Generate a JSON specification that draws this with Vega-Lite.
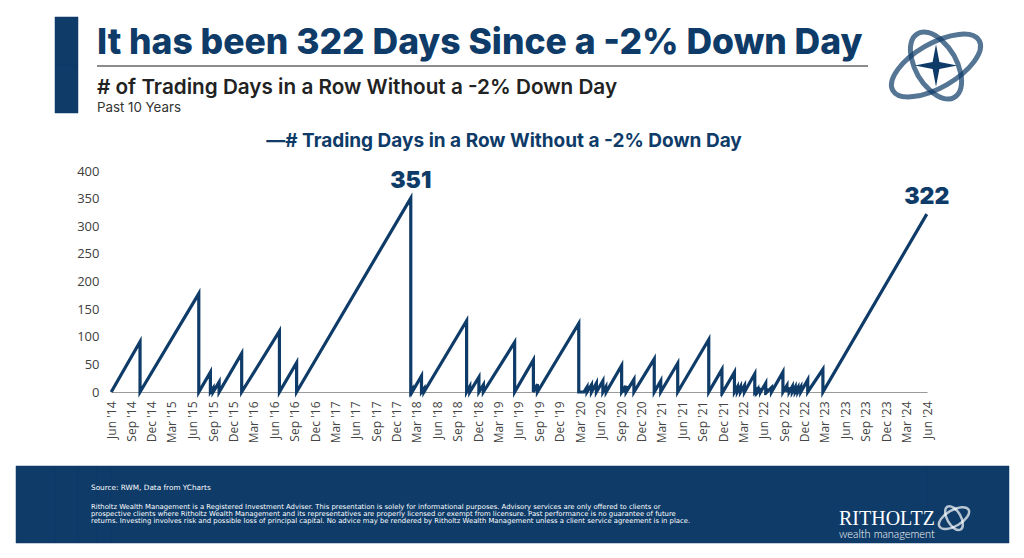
{
  "$schema": "https://vega.github.io/schema/vega-lite/v6.json",
  "background": "white",
  "padding": {"left": 15, "top": 14, "right": 16, "bottom": 15},
  "config": {"view": {"stroke": null}, "font": "Inter"},
  "datasets": {
    "blank": [{}],
    "logo": [{"part": "ring A"}, {"part": "ring B"}],
    "mini": [{"part": "mini A"}, {"part": "mini B"}],
    "series": [
      {"date": "2014-06-02", "days": 0},
      {"date": "2014-10-09", "days": 91}, {"date": "2014-10-09", "days": 0},
      {"date": "2015-06-29", "days": 178}, {"date": "2015-06-29", "days": 0},
      {"date": "2015-08-20", "days": 36}, {"date": "2015-08-20", "days": 0},
      {"date": "2015-09-01", "days": 7}, {"date": "2015-09-01", "days": 0},
      {"date": "2015-09-28", "days": 18}, {"date": "2015-09-28", "days": 0},
      {"date": "2016-01-07", "days": 70}, {"date": "2016-01-07", "days": 0},
      {"date": "2016-06-24", "days": 110}, {"date": "2016-06-24", "days": 0},
      {"date": "2016-09-09", "days": 53}, {"date": "2016-09-09", "days": 0},
      {"date": "2018-02-02", "days": 351, "label": "351"}, {"date": "2018-02-02", "days": 0},
      {"date": "2018-02-08", "days": 4}, {"date": "2018-02-08", "days": 0},
      {"date": "2018-03-22", "days": 29}, {"date": "2018-03-22", "days": 0},
      {"date": "2018-04-02", "days": 6}, {"date": "2018-04-02", "days": 0},
      {"date": "2018-10-10", "days": 129}, {"date": "2018-10-10", "days": 0},
      {"date": "2018-10-24", "days": 10}, {"date": "2018-10-24", "days": 0},
      {"date": "2018-12-04", "days": 27}, {"date": "2018-12-04", "days": 0},
      {"date": "2018-12-24", "days": 13}, {"date": "2018-12-24", "days": 0},
      {"date": "2019-05-13", "days": 90}, {"date": "2019-05-13", "days": 0},
      {"date": "2019-08-05", "days": 58}, {"date": "2019-08-05", "days": 0},
      {"date": "2019-08-23", "days": 14}, {"date": "2019-08-23", "days": 0},
      {"date": "2020-02-24", "days": 124}, {"date": "2020-02-24", "days": 0},
      {"date": "2020-03-18", "days": 0},
      {"date": "2020-04-01", "days": 9}, {"date": "2020-04-01", "days": 0},
      {"date": "2020-04-21", "days": 13}, {"date": "2020-04-21", "days": 0},
      {"date": "2020-05-13", "days": 16}, {"date": "2020-05-13", "days": 0},
      {"date": "2020-06-11", "days": 20}, {"date": "2020-06-11", "days": 0},
      {"date": "2020-06-24", "days": 9}, {"date": "2020-06-24", "days": 0},
      {"date": "2020-06-26", "days": 2}, {"date": "2020-06-26", "days": 0},
      {"date": "2020-09-03", "days": 48}, {"date": "2020-09-03", "days": 0},
      {"date": "2020-09-08", "days": 3}, {"date": "2020-09-08", "days": 0},
      {"date": "2020-09-23", "days": 11}, {"date": "2020-09-23", "days": 0},
      {"date": "2020-10-28", "days": 23}, {"date": "2020-10-28", "days": 0},
      {"date": "2021-01-27", "days": 60}, {"date": "2021-01-27", "days": 0},
      {"date": "2021-02-25", "days": 20}, {"date": "2021-02-25", "days": 0},
      {"date": "2021-05-12", "days": 52}, {"date": "2021-05-12", "days": 0},
      {"date": "2021-09-28", "days": 95}, {"date": "2021-09-28", "days": 0},
      {"date": "2021-11-26", "days": 41}, {"date": "2021-11-26", "days": 0},
      {"date": "2021-11-30", "days": 2}, {"date": "2021-11-30", "days": 0},
      {"date": "2022-01-21", "days": 36}, {"date": "2022-01-21", "days": 0},
      {"date": "2022-02-03", "days": 9}, {"date": "2022-02-03", "days": 0},
      {"date": "2022-02-17", "days": 10}, {"date": "2022-02-17", "days": 0},
      {"date": "2022-03-07", "days": 12}, {"date": "2022-03-07", "days": 0},
      {"date": "2022-04-22", "days": 33}, {"date": "2022-04-22", "days": 0},
      {"date": "2022-04-26", "days": 2}, {"date": "2022-04-26", "days": 0},
      {"date": "2022-04-29", "days": 3}, {"date": "2022-04-29", "days": 0},
      {"date": "2022-05-05", "days": 4}, {"date": "2022-05-05", "days": 0},
      {"date": "2022-05-09", "days": 2}, {"date": "2022-05-09", "days": 0},
      {"date": "2022-05-18", "days": 7}, {"date": "2022-05-18", "days": 0},
      {"date": "2022-06-10", "days": 16}, {"date": "2022-06-10", "days": 0},
      {"date": "2022-06-13", "days": 1}, {"date": "2022-06-13", "days": 0},
      {"date": "2022-06-16", "days": 3}, {"date": "2022-06-16", "days": 0},
      {"date": "2022-07-06", "days": 8}, {"date": "2022-07-06", "days": 0},
      {"date": "2022-08-26", "days": 36}, {"date": "2022-08-26", "days": 0},
      {"date": "2022-09-13", "days": 12}, {"date": "2022-09-13", "days": 0},
      {"date": "2022-09-23", "days": 8}, {"date": "2022-09-23", "days": 0},
      {"date": "2022-10-07", "days": 10}, {"date": "2022-10-07", "days": 0},
      {"date": "2022-10-20", "days": 9}, {"date": "2022-10-20", "days": 0},
      {"date": "2022-11-01", "days": 8}, {"date": "2022-11-01", "days": 0},
      {"date": "2022-11-14", "days": 9}, {"date": "2022-11-14", "days": 0},
      {"date": "2022-12-15", "days": 22}, {"date": "2022-12-15", "days": 0},
      {"date": "2023-02-21", "days": 41}, {"date": "2023-02-21", "days": 0},
      {"date": "2024-05-31", "days": 322, "label": "322"}
    ]
  },
  "columns": 6,
  "align": "each",
  "bounds": "flush",
  "spacing": 0,
  "concat": [
    {"width": 39, "height": 48, "data": {"name": "blank"}, "mark": {"type": "point", "opacity": 0}, "encoding": {}},
    {"width": 23, "height": 48, "data": {"name": "blank"}, "mark": {"type": "point", "opacity": 0}, "encoding": {}, "view": {"fill": "#0e3b68", "stroke": "#0e3b68", "strokeWidth": 0.5}},
    {"width": 19, "height": 1, "data": {"name": "blank"}, "mark": {"type": "point", "opacity": 0}, "encoding": {}},
    {
      "width": 14, "height": 48,
      "data": {"name": "blank"}, "mark": {"type": "point", "opacity": 0}, "encoding": {},
      "title": {"text": "It has been 322 Days Since a -2% Down Day", "orient": "top", "anchor": "start", "frame": "group", "offset": -44, "font": "Inter", "fontSize": 35.5, "fontWeight": 800, "color": "#0e3b68"}
    },
    {"width": 1, "height": 1, "data": {"name": "blank"}, "mark": {"type": "point", "opacity": 0}, "encoding": {}},
    {"width": 1, "height": 1, "data": {"name": "blank"}, "mark": {"type": "point", "opacity": 0}, "encoding": {}},

    {"width": 39, "height": 106, "data": {"name": "blank"}, "mark": {"type": "point", "opacity": 0}, "encoding": {}},
    {"width": 23, "height": 48, "data": {"name": "blank"}, "mark": {"type": "point", "opacity": 0}, "encoding": {}, "view": {"fill": "#0e3b68", "stroke": "#0e3b68", "strokeWidth": 0.5}},
    {"width": 19, "height": 1, "data": {"name": "blank"}, "mark": {"type": "point", "opacity": 0}, "encoding": {}},
    {
      "width": 14, "height": 2,
      "data": {"name": "blank"}, "mark": {"type": "point", "opacity": 0}, "encoding": {},
      "view": {"fill": "#8c8c8c", "stroke": null},
      "title": {"text": "# of Trading Days in a Row Without a -2% Down Day", "subtitle": "Past 10 Years", "orient": "bottom", "anchor": "start", "frame": "group", "offset": 9, "font": "Inter", "fontSize": 20.7, "fontWeight": 600, "color": "#222222", "subtitleFont": "Inter", "subtitleFontSize": 13.3, "subtitleColor": "#333333", "subtitlePadding": 3}
    },
    {"width": 757, "height": 2, "data": {"name": "blank"}, "mark": {"type": "point", "opacity": 0}, "encoding": {}, "view": {"fill": "#8c8c8c", "stroke": null}},
    {
      "width": 18, "height": 1,
      "layer": [
        {
          "data": {"name": "logo"},
          "mark": {"type": "point", "filled": false, "strokeWidth": 5, "color": "#0e3b68", "size": 11000},
          "encoding": {
            "shape": {
              "field": "part", "type": "nominal", "legend": null,
              "scale": {"domain": ["ring A", "ring B", "mini A", "mini B"], "range": [
                "M -0.823 0.475 A 0.95 0.42 -30 1 0 0.823 -0.475 A 0.95 0.42 -30 1 0 -0.823 0.475 Z",
                "M -0.35 -0.606 A 0.7 0.38 60 1 0 0.35 0.606 A 0.7 0.38 60 1 0 -0.35 -0.606 Z",
                "M -0.714 0.55 A 0.42 0.2 -30 1 0 0.014 0.13 A 0.42 0.2 -30 1 0 -0.714 0.55 Z",
                "M -0.515 0.054 A 0.33 0.17 60 1 0 -0.185 0.626 A 0.33 0.17 60 1 0 -0.515 0.054 Z"
              ]}
            }
          }
        },
        {
          "data": {"name": "blank"},
          "mark": {"type": "point", "filled": true, "color": "#0e3b68", "opacity": 1, "size": 1800, "shape": "M 0 -1 L 0.16 -0.16 L 1 0 L 0.16 0.16 L 0 1 L -0.16 0.16 L -1 0 L -0.16 -0.16 Z"},
          "encoding": {}
        }
      ]
    },

    {"width": 39, "height": 295, "data": {"name": "blank"}, "mark": {"type": "point", "opacity": 0}, "encoding": {}},
    {"width": 23, "height": 1, "data": {"name": "blank"}, "mark": {"type": "point", "opacity": 0}, "encoding": {}},
    {"width": 19, "height": 1, "data": {"name": "blank"}, "mark": {"type": "point", "opacity": 0}, "encoding": {}},
    {"width": 14, "height": 1, "data": {"name": "blank"}, "mark": {"type": "point", "opacity": 0}, "encoding": {}},
    {
      "width": 816,
      "height": 221,
      "data": {"name": "series"},
      "title": {"text": "—# Trading Days in a Row Without a -2% Down Day", "orient": "top", "anchor": "middle", "frame": "group", "dx": -15, "offset": 14, "font": "Inter", "fontSize": 19, "fontWeight": 700, "color": "#0e3b68"},
      "encoding": {
        "x": {
          "field": "date", "type": "temporal",
          "scale": {"type": "utc", "domain": [{"year": 2014, "month": 6, "date": 1, "utc": true}, {"year": 2024, "month": 6, "date": 1, "utc": true}]},
          "axis": {
            "title": null,
            "labelExpr": "utcFormat(datum.value, '%b') + \" '\" + utcFormat(datum.value, '%y')",
            "values": [
              {"year": 2014, "month": 6, "date": 1, "utc": true}, {"year": 2014, "month": 9, "date": 1, "utc": true}, {"year": 2014, "month": 12, "date": 1, "utc": true},
              {"year": 2015, "month": 3, "date": 1, "utc": true}, {"year": 2015, "month": 6, "date": 1, "utc": true}, {"year": 2015, "month": 9, "date": 1, "utc": true}, {"year": 2015, "month": 12, "date": 1, "utc": true},
              {"year": 2016, "month": 3, "date": 1, "utc": true}, {"year": 2016, "month": 6, "date": 1, "utc": true}, {"year": 2016, "month": 9, "date": 1, "utc": true}, {"year": 2016, "month": 12, "date": 1, "utc": true},
              {"year": 2017, "month": 3, "date": 1, "utc": true}, {"year": 2017, "month": 6, "date": 1, "utc": true}, {"year": 2017, "month": 9, "date": 1, "utc": true}, {"year": 2017, "month": 12, "date": 1, "utc": true},
              {"year": 2018, "month": 3, "date": 1, "utc": true}, {"year": 2018, "month": 6, "date": 1, "utc": true}, {"year": 2018, "month": 9, "date": 1, "utc": true}, {"year": 2018, "month": 12, "date": 1, "utc": true},
              {"year": 2019, "month": 3, "date": 1, "utc": true}, {"year": 2019, "month": 6, "date": 1, "utc": true}, {"year": 2019, "month": 9, "date": 1, "utc": true}, {"year": 2019, "month": 12, "date": 1, "utc": true},
              {"year": 2020, "month": 3, "date": 1, "utc": true}, {"year": 2020, "month": 6, "date": 1, "utc": true}, {"year": 2020, "month": 9, "date": 1, "utc": true}, {"year": 2020, "month": 12, "date": 1, "utc": true},
              {"year": 2021, "month": 3, "date": 1, "utc": true}, {"year": 2021, "month": 6, "date": 1, "utc": true}, {"year": 2021, "month": 9, "date": 1, "utc": true}, {"year": 2021, "month": 12, "date": 1, "utc": true},
              {"year": 2022, "month": 3, "date": 1, "utc": true}, {"year": 2022, "month": 6, "date": 1, "utc": true}, {"year": 2022, "month": 9, "date": 1, "utc": true}, {"year": 2022, "month": 12, "date": 1, "utc": true},
              {"year": 2023, "month": 3, "date": 1, "utc": true}, {"year": 2023, "month": 6, "date": 1, "utc": true}, {"year": 2023, "month": 9, "date": 1, "utc": true}, {"year": 2023, "month": 12, "date": 1, "utc": true},
              {"year": 2024, "month": 3, "date": 1, "utc": true}, {"year": 2024, "month": 6, "date": 1, "utc": true}
            ],
            "labelAngle": -90, "labelFont": "Open Sans", "labelFontSize": 12, "labelColor": "#444444",
            "labelPadding": 9, "labelOverlap": false, "labelFlush": false,
            "ticks": false, "grid": false, "domainColor": "#9a9a9a", "domainWidth": 1.2
          }
        },
        "y": {
          "field": "days", "type": "quantitative",
          "scale": {"domain": [0, 400]},
          "axis": {"title": null, "values": [0, 50, 100, 150, 200, 250, 300, 350, 400], "grid": false, "domain": false, "ticks": false, "labelPadding": 12, "labelFont": "Open Sans", "labelFontSize": 13, "labelColor": "#404040"}
        }
      },
      "layer": [
        {
          "mark": {"type": "line", "strokeWidth": 3.2, "clip": false, "color": "#0e3b68"},
          "encoding": {"order": {"value": null}}
        },
        {
          "transform": [{"filter": "isValid(datum.label)"}],
          "mark": {"type": "text", "font": "Inter", "fontSize": 23, "fontWeight": 900, "color": "#0e3b68", "baseline": "alphabetic", "dy": -10},
          "encoding": {"text": {"field": "label"}}
        }
      ]
    },
    {"width": 1, "height": 1, "data": {"name": "blank"}, "mark": {"type": "point", "opacity": 0}, "encoding": {}},

    {"width": 39, "height": 77, "data": {"name": "blank"}, "mark": {"type": "point", "opacity": 0}, "encoding": {}, "view": {"fill": "#0e3b68", "stroke": "#0e3b68", "strokeWidth": 0.5}},
    {"width": 23, "height": 77, "data": {"name": "blank"}, "mark": {"type": "point", "opacity": 0}, "encoding": {}, "view": {"fill": "#0e3b68", "stroke": "#0e3b68", "strokeWidth": 0.5}},
    {"width": 19, "height": 77, "data": {"name": "blank"}, "mark": {"type": "point", "opacity": 0}, "encoding": {}, "view": {"fill": "#0e3b68", "stroke": "#0e3b68", "strokeWidth": 0.5}},
    {"width": 14, "height": 77, "data": {"name": "blank"}, "mark": {"type": "point", "opacity": 0}, "encoding": {}, "view": {"fill": "#0e3b68", "stroke": "#0e3b68", "strokeWidth": 0.5}},
    {
      "width": 816, "height": 77,
      "data": {"name": "blank"}, "mark": {"type": "point", "opacity": 0}, "encoding": {},
      "view": {"fill": "#0e3b68", "stroke": "#0e3b68", "strokeWidth": 0.5},
      "title": {
        "text": "Source: RWM, Data from YCharts",
        "subtitle": [
          "Ritholtz Wealth Management is a Registered Investment Adviser. This presentation is solely for informational purposes. Advisory services are only offered to clients or",
          "prospective clients where Ritholtz Wealth Management and its representatives are properly licensed or exempt from licensure. Past performance is no guarantee of future",
          "returns. Investing involves risk and possible loss of principal capital. No advice may be rendered by Ritholtz Wealth Management unless a client service agreement is in place."
        ],
        "orient": "top", "anchor": "start", "frame": "group", "offset": -59, "dx": -20,
        "font": "DejaVu Sans", "fontSize": 7.3, "fontWeight": 400, "color": "white",
        "subtitleFont": "DejaVu Sans", "subtitleFontSize": 6.85, "subtitleColor": "white", "subtitleLineHeight": 6.85, "subtitlePadding": 13.5
      }
    },
    {
      "width": 82, "height": 77,
      "view": {"fill": "#0e3b68", "stroke": "#0e3b68", "strokeWidth": 0.5},
      "title": {
        "text": "RITHOLTZ",
        "subtitle": "wealth management",
        "orient": "top", "anchor": "start", "frame": "group", "offset": -74, "dx": -88,
        "font": "Liberation Serif", "fontSize": 20, "fontWeight": 400, "color": "white",
        "subtitleFont": "Lato", "subtitleFontSize": 11, "subtitleFontWeight": 300, "subtitleColor": "white", "subtitlePadding": 0
      },
      "data": {"name": "mini"},
      "mark": {"type": "point", "filled": false, "strokeWidth": 2.5, "color": "white", "size": 6400},
      "encoding": {
        "shape": {
          "field": "part", "type": "nominal", "legend": null,
          "scale": {"domain": ["ring A", "ring B", "mini A", "mini B"], "range": [
            "M -0.823 0.475 A 0.95 0.42 -30 1 0 0.823 -0.475 A 0.95 0.42 -30 1 0 -0.823 0.475 Z",
            "M -0.35 -0.606 A 0.7 0.38 60 1 0 0.35 0.606 A 0.7 0.38 60 1 0 -0.35 -0.606 Z",
            "M -0.714 0.55 A 0.42 0.2 -30 1 0 0.014 0.13 A 0.42 0.2 -30 1 0 -0.714 0.55 Z",
            "M -0.515 0.054 A 0.33 0.17 60 1 0 -0.185 0.626 A 0.33 0.17 60 1 0 -0.515 0.054 Z"
          ]}
        }
      }
    }
  ]
}
